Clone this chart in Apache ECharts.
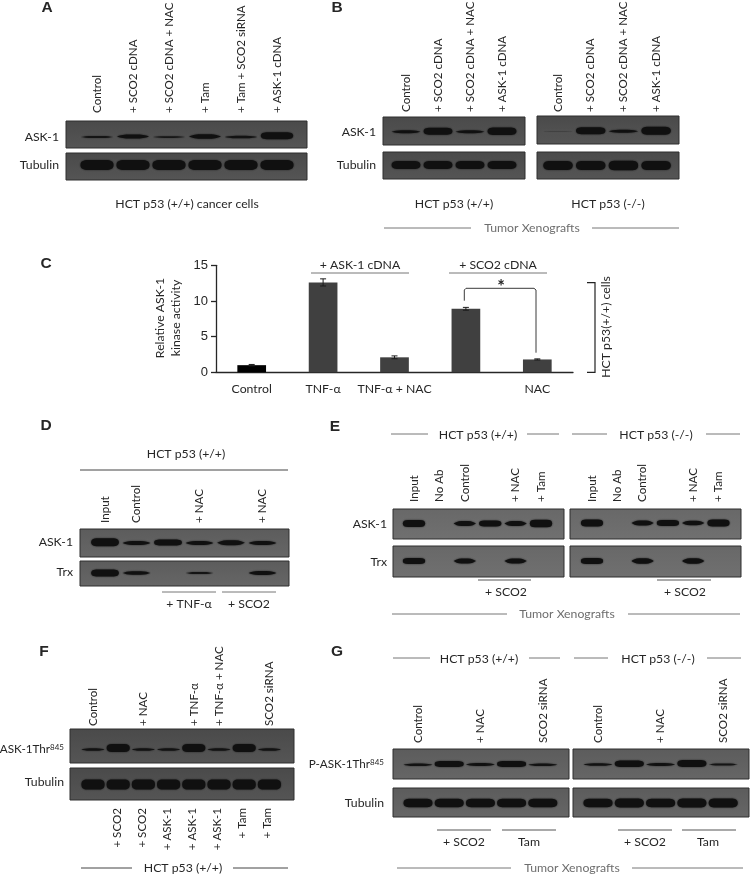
<!DOCTYPE html>
<html><head><meta charset="utf-8">
<style>html,body{margin:0;padding:0;background:#fff}#c{width:750px;height:876px}</style>
<script src="https://cdn.jsdelivr.net/npm/echarts@6/dist/echarts.min.js"></script>
</head><body><div id="c"></div>
<script>
// ---------- DATA ----------
// Panel C
var kinaseCategories = ['Control','TNF-α','TNF-α + NAC','','NAC'];
var kinaseValues = [1.0,12.6,2.1,8.9,1.8];
var kinaseErrors = [0.1,0.5,0.2,0.2,0.08];
var kinaseTicks = [0,5,10,15];
// Lane labels
var lanesA = ['Control','+ SCO2 cDNA','+ SCO2 cDNA + NAC','+ Tam','+ Tam + SCO2 siRNA','+ ASK-1 cDNA'];
var lanesB = ['Control','+ SCO2 cDNA','+ SCO2 cDNA + NAC','+ ASK-1 cDNA'];
var lanesD = ['Input','Control','','+ NAC','','+ NAC'];
var lanesE = ['Input','No Ab','Control','','+ NAC','+ Tam'];
var lanesFtop = ['Control','','+ NAC','','+ TNF-α','+ TNF-α + NAC','','SCO2 siRNA'];
var lanesFbottom = ['+ SCO2','+ SCO2','+ ASK-1','+ ASK-1','+ ASK-1','+ Tam','+ Tam'];
var lanesG = ['Control','','+ NAC','','SCO2 siRNA'];
// Band densities (estimated from the blots)
var askA = [2,4,1.8,4.5,2.5,7];
var tubA = [10,10,10,10,10,10];
var askBwt = [3,7,3,7.5];
var tubBwt = [8,8,8,8];
var askBko = [0.8,7,3,8];
var tubBko = [9,9,9.5,9];
var askD = [8,4,6,4,5,4];
var trxD = [7,3.5,0,2.2,0,4];
var askEwt = [7,0,5,6,5,7.5];
var trxEwt = [6,0,5,0,5,0];
var askEko = [7,0,5,6,4.5,7];
var trxEko = [6,0,5.5,0,5.5,0];
var pF = [2.5,8,2.5,2.5,8,2.5,8,2.5];
var tubF = [10,10,10,10,10,10,10,10];
var pGwt = [2.5,6,3,6,2.5];
var tubGwt = [8.5,8.5,8.5,8.5,8.5];
var pGko = [2.5,6.5,3,7,2];
var tubGko = [8.5,9,8.5,9,9];

// ---------- LAYOUT ----------
var FONT='Lato', INK='#262626', GREY='#6e6e6e';
var grids=[],xAxes=[],yAxes=[],series=[],gfx=[];
var LENS='M0,50 C8,30 18,0 36,0 L64,0 C82,0 92,30 100,50 C92,70 82,100 64,100 L36,100 C18,100 8,70 0,50Z';
var CAPS='M0,50 C0,14 8,0 24,0 L76,0 C92,0 100,14 100,50 C100,86 92,100 76,100 L24,100 C8,100 0,86 0,50Z';

function addAxisPair(g,labels,pos,margin,showLabels){
  var i=grids.length; g.outerBoundsMode='none'; g.containLabel=false; grids.push(g);
  xAxes.push({type:'category',gridIndex:i,data:labels,position:pos,axisLine:{show:false},axisTick:{show:false},splitLine:{show:false},
    axisLabel:{show:showLabels,interval:0,rotate:90,margin:margin,color:INK,fontFamily:FONT,fontSize:11.6,hideOverlap:false}});
  return i;
}
function blot(o){
  gfx.push({type:'rect',z:-5,shape:{x:o.x0,y:o.y0,width:o.x1-o.x0,height:o.y1-o.y0},
    style:{fill:{type:'linear',x:0,y:0,x2:0,y2:1,colorStops:[{offset:0,color:o.bg0},{offset:1,color:o.bg1}]},stroke:'#2e2e2e',lineWidth:1}});
  var n=o.values.length;
  var labels=o.labels||o.values.map(function(v,k){return 'lane '+(k+1);});
  var i=addAxisPair({left:o.c0-o.pitch/2,width:n*o.pitch,top:o.y0,height:o.y1-o.y0,show:false},labels,'top',o.y0-o.labelBottom,!!o.labels);
  yAxes.push({type:'value',gridIndex:i,show:false,min:o.bandY-o.y1,max:o.bandY-o.y0});
  series.push({type:'custom',xAxisIndex:i,yAxisIndex:i,silent:true,clip:false,z:3,
    data:o.values.map(function(v,k){return [k,v];}),
    renderItem:function(p,api){
      var d=api.value(1); if(!d) return;
      var c=api.coord([api.value(0),0]);
      var h=api.size([0,d])[1], w=api.size([1,0])[0]*(o.wf||0.9);
      var lift=(o.lift||0)*d;
      var alpha=d<1.5?0.28:Math.min(1,0.68+d*0.1);
      return {type:'path',shape:{pathData:d>=6?CAPS:LENS,x:c[0]-w/2,y:c[1]-h/2-lift,width:w,height:h,layout:'cover'},
        style:{fill:'rgba(16,16,16,'+alpha+')',shadowBlur:2,shadowColor:'rgba(16,16,16,'+alpha*0.8+')'}};
    }});
}
function labelAxis(c0,pitch,labels,yTop){
  var i=addAxisPair({left:c0-pitch/2,width:labels.length*pitch,top:yTop-10,height:10,show:false},labels,'bottom',0,true);
  yAxes.push({type:'value',gridIndex:i,show:false,min:0,max:1});
  series.push({type:'custom',xAxisIndex:i,yAxisIndex:i,silent:true,data:[],renderItem:function(){}});
}
function txt(s,x,y,o){o=o||{};
  gfx.push({type:'text',x:x,y:y,rotation:o.rot||0,style:Object.assign({text:s,fill:o.color||INK,font:(o.weight||'normal')+' '+(o.size||12.25)+'px '+(o.family||FONT),align:o.align||'center',verticalAlign:'middle'},o.rich?{rich:o.rich}:{})});
}
function line(x0,y0,x1,y1,c,w){gfx.push({type:'line',shape:{x1:x0,y1:y0,x2:x1,y2:y1},style:{stroke:c||'#777',lineWidth:w||1}});}
function poly(pts,c,w){gfx.push({type:'polyline',shape:{points:pts},style:{stroke:c||'#333',lineWidth:w||1,fill:null}});}
function panel(s,x,y){txt(s,x,y,{weight:'bold',size:15.5,family:'Liberation Sans'});}

// Panel A
var DARK0='#4a4a4a',DARK1='#555555';
panel('A',47,8);
blot({x0:66,x1:307,y0:121,y1:148,bg0:DARK0,bg1:DARK1,c0:97,pitch:36,bandY:137.5,lift:0.25,values:askA,labels:lanesA,labelBottom:113});
blot({x0:66,x1:307,y0:153,y1:180,bg0:DARK0,bg1:DARK1,c0:97,pitch:36,bandY:165,values:tubA,wf:0.92});
txt('ASK-1',59,137,{align:'right'});txt('Tubulin',59,165,{align:'right'});
txt('HCT p53 (+/+) cancer cells',187,204);
// Panel B
panel('B',337,8);
blot({x0:383,x1:525,y0:117,y1:145,bg0:DARK0,bg1:DARK1,c0:406,pitch:32,bandY:132,lift:0.1,values:askBwt,labels:lanesB,labelBottom:112});
blot({x0:383,x1:525,y0:152,y1:179,bg0:DARK0,bg1:DARK1,c0:406,pitch:32,bandY:165,values:tubBwt});
blot({x0:537,x1:679,y0:116,y1:144,bg0:DARK0,bg1:DARK1,c0:558,pitch:32.7,bandY:131.5,lift:0.1,values:askBko,labels:lanesB,labelBottom:112});
blot({x0:537,x1:679,y0:152,y1:179,bg0:DARK0,bg1:DARK1,c0:558,pitch:32.7,bandY:165.5,values:tubBko});
txt('ASK-1',376,132,{align:'right'});txt('Tubulin',376,165,{align:'right'});
txt('HCT p53 (+/+)',454,204);txt('HCT p53 (-/-)',608,204);
line(384,228,471,228);line(592,228,679,228);txt('Tumor Xenografts',532,228,{color:GREY});
// Panel C
panel('C',46,264);
var ci=grids.length;
grids.push({left:216,top:265.3,width:357,height:107,show:false,outerBoundsMode:'none',containLabel:false});
xAxes.push({type:'category',gridIndex:ci,data:kinaseCategories,axisLine:{lineStyle:{color:'#262626',width:1.3}},axisTick:{show:false},
  axisLabel:{interval:0,margin:11,color:INK,fontFamily:FONT,fontSize:12.25}});
yAxes.push({type:'value',gridIndex:ci,min:kinaseTicks[0],max:kinaseTicks[kinaseTicks.length-1],interval:kinaseTicks[1]-kinaseTicks[0],
  splitLine:{show:false},axisLine:{show:true,lineStyle:{color:'#262626',width:1.3}},axisTick:{show:true,length:5,lineStyle:{color:'#262626',width:1.3}},
  axisLabel:{margin:8,color:INK,fontFamily:'Liberation Sans',fontSize:13}});
series.push({type:'bar',xAxisIndex:ci,yAxisIndex:ci,barWidth:28.7,silent:true,z:2,
  data:kinaseValues.map(function(v,i){return {value:v,itemStyle:{color:i===0?'#000':'#404040'}};})});
series.push({type:'custom',xAxisIndex:ci,yAxisIndex:ci,silent:true,z:4,
  data:kinaseValues.map(function(v,i){return [i,v-kinaseErrors[i],v+kinaseErrors[i]];}),
  renderItem:function(p,api){
    var a=api.coord([api.value(0),api.value(1)]),b=api.coord([api.value(0),api.value(2)]);
    var st={stroke:'#1c1c1c',lineWidth:1};
    return {type:'group',children:[
      {type:'line',shape:{x1:a[0],y1:a[1],x2:b[0],y2:b[1]},style:st},
      {type:'line',shape:{x1:a[0]-3,y1:a[1],x2:a[0]+3,y2:a[1]},style:st},
      {type:'line',shape:{x1:b[0]-3,y1:b[1],x2:b[0]+3,y2:b[1]},style:st}]};
  }});
txt('Relative ASK-1',160,318,{rot:Math.PI/2});txt('kinase activity',176,318,{rot:Math.PI/2});
txt('+ ASK-1 cDNA',360,265);line(311,273,409,273);
txt('+ SCO2 cDNA',498,265);line(449,273,547,273);
poly([[464.3,300.7],[464.3,290],[466,288.3],[534,288.3],[536,290],[536,352.7]],'#3a3a3a',1);
txt('*',501,287,{size:18,weight:'bold'});
poly([[587,282.7],[595,282.7],[595,372.3],[587,372.3]],'#222',1.2);
txt('HCT p53(+/+) cells',606,327,{rot:Math.PI/2});
// Panel D
var MID0='#5c5c5c',MID1='#666666';
panel('D',46,426);
blot({x0:80,x1:289,y0:529,y1:557,bg0:MID0,bg1:MID1,c0:105,pitch:31.5,bandY:543.5,lift:0.15,values:askD,labels:lanesD,labelBottom:523,wf:0.88});
blot({x0:80,x1:289,y0:561,y1:586,bg0:MID0,bg1:MID1,c0:105,pitch:31.5,bandY:573,values:trxD,wf:0.88});
txt('ASK-1',73,542,{align:'right'});txt('Trx',73,572,{align:'right'});
txt('HCT p53 (+/+)',186,454);line(80,470,288,470,'#444');
line(162,592,216,592);line(222,592,276,592);txt('+ TNF-α',189,604);txt('+ SCO2',249,604);
// Panel E
var LIGHT0='#686868',LIGHT1='#707070';
panel('E',335,427);
blot({x0:393,x1:564,y0:509,y1:539,bg0:LIGHT0,bg1:LIGHT1,c0:414,pitch:25.4,bandY:523.5,values:askEwt,labels:lanesE,labelBottom:502,wf:0.88});
blot({x0:393,x1:564,y0:546,y1:577,bg0:LIGHT0,bg1:LIGHT1,c0:414,pitch:25.4,bandY:561,values:trxEwt,wf:0.88});
blot({x0:570,x1:741,y0:509,y1:539,bg0:LIGHT0,bg1:LIGHT1,c0:592,pitch:25.3,bandY:523,values:askEko,labels:lanesE,labelBottom:502,wf:0.88});
blot({x0:570,x1:741,y0:546,y1:577,bg0:LIGHT0,bg1:LIGHT1,c0:592,pitch:25.3,bandY:561,values:trxEko,wf:0.88});
txt('ASK-1',387,524,{align:'right'});txt('Trx',387,562,{align:'right'});
txt('HCT p53 (+/+)',478,435);txt('HCT p53 (-/-)',656,435);
line(391,434,428,434);line(527,434,559,434);line(572,434,607,434);line(706,434,740,434);
line(478,580,531,580,'#555');line(657,580,711,580,'#555');txt('+ SCO2',506,592);txt('+ SCO2',685,592);
line(392,614,507,614);line(628,614,740,614);txt('Tumor Xenografts',567,614,{color:GREY});
// Panel F
panel('F',44,652);
blot({x0:70,x1:294,y0:729,y1:763,bg0:DARK0,bg1:DARK1,c0:93,pitch:25.2,bandY:750,lift:0.25,values:pF,labels:lanesFtop,labelBottom:726,wf:0.92});
blot({x0:70,x1:294,y0:768,y1:800,bg0:DARK0,bg1:DARK1,c0:93,pitch:25.2,bandY:784.5,values:tubF,wf:0.92});
labelAxis(117,25.1,lanesFbottom,808);
var RICH={a:{fontFamily:FONT,fontSize:11.7,fill:INK,color:INK},s:{fontFamily:FONT,fontSize:8,fill:INK,color:INK,verticalAlign:'top',padding:[0,0,4,0]}};
txt('{a|ASK-1Thr}{s|845}',64,749,{align:'right',rich:RICH});txt('Tubulin',64,782,{align:'right'});
line(81,868,132,868,'#444');line(233,868,288,868,'#444');txt('HCT p53 (+/+)',183,868);
// Panel G
panel('G',337,652);
blot({x0:393,x1:569,y0:749,y1:779,bg0:MID0,bg1:MID1,c0:418,pitch:31.2,bandY:765,lift:0.15,values:pGwt,labels:lanesG,labelBottom:743,wf:0.93});
blot({x0:393,x1:569,y0:788,y1:817,bg0:MID0,bg1:MID1,c0:418,pitch:31.2,bandY:803,values:tubGwt,wf:0.93});
blot({x0:573,x1:749,y0:749,y1:779,bg0:MID0,bg1:MID1,c0:598,pitch:31.3,bandY:765,lift:0.2,values:pGko,labels:lanesG,labelBottom:743,wf:0.93});
blot({x0:573,x1:749,y0:788,y1:817,bg0:MID0,bg1:MID1,c0:598,pitch:31.3,bandY:803,values:tubGko,wf:0.93});
txt('{a|P-ASK-1Thr}{s|845}',384,764,{align:'right',rich:RICH});txt('Tubulin',384,803,{align:'right'});
txt('HCT p53 (+/+)',479,659);txt('HCT p53 (-/-)',658,659);
line(393,658,430,658);line(529,658,560,658);line(574,658,608,658);line(707,658,741,658);
line(437,830,491,830,'#555');line(502,830,556,830,'#555');line(618,830,672,830,'#555');line(682,830,736,830,'#555');
txt('+ SCO2',464,842);txt('Tam',529,842);txt('+ SCO2',645,842);txt('Tam',708,842);
line(397,868,511,868);line(632,868,743,868);txt('Tumor Xenografts',572,868,{color:GREY});

var chart=echarts.init(document.getElementById('c'),null,{renderer:'canvas'});
chart.setOption({animation:false,backgroundColor:'#fff',grid:grids,xAxis:xAxes,yAxis:yAxes,series:series,graphic:{elements:gfx}});
</script></body></html>
